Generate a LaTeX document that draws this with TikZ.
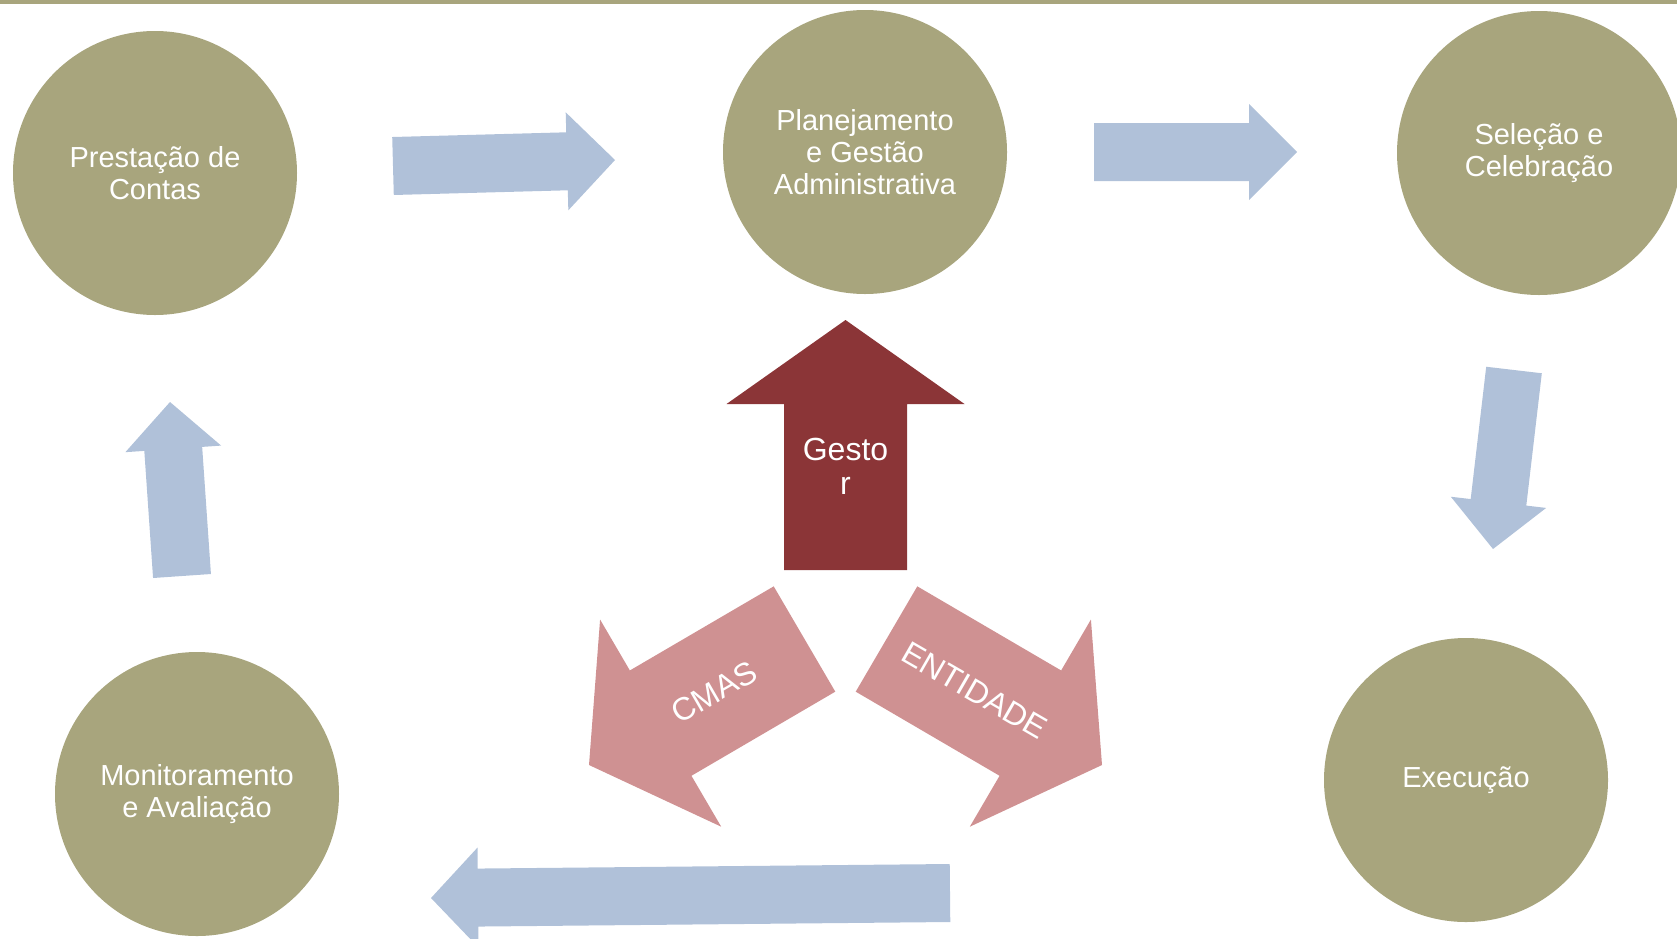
\documentclass[tikz,border=0pt]{standalone}
\usepackage{fontspec}
\setmainfont{Liberation Sans}
\usetikzlibrary{calc}

\definecolor{stagecol}{HTML}{A8A57D}
\definecolor{flowcol}{HTML}{B0C1D9}
\definecolor{gestorcol}{HTML}{8B3537}
\definecolor{partcol}{HTML}{CF9192}

% block arrow: style, tail, tip, half shaft, half head, head length
\newcommand{\blockarrow}[6]{%
  \coordinate (neck) at ($(#3)!#6!(#2)$);
  \fill[#1] ($(#2)!#4!90:(#3)$) -- ($(neck)!#4!90:(#3)$) -- ($(neck)!#5!90:(#3)$)
    -- (#3) -- ($(neck)!#5!-90:(#3)$) -- ($(neck)!#4!-90:(#3)$) -- ($(#2)!#4!-90:(#3)$) -- cycle;
}

\begin{document}
\begin{tikzpicture}[
    x=1pt, y=-1pt,
    stage/.style={circle, fill=stagecol, minimum size=284pt, inner sep=0pt, align=center, text=white, font=\fontsize{29}{32}\selectfont},
    lbl/.style={text=white, align=center, inner sep=0pt, font=\fontsize{32}{34}\selectfont},
    flow/.style={fill=flowcol},
    gestorarrow/.style={fill=gestorcol},
    partarrow/.style={fill=partcol}
]
\useasboundingbox (0,0) rectangle (1677,938);
\fill[stagecol] (0,0) rectangle (1677,4);

\node[stage] (prest) at (155,173) {Prestação de\\Contas};
\node[stage] (plan) at (865,152) {Planejamento\\e Gestão\\Administrativa};
\node[stage] (selec) at (1539,153) {Seleção e\\Celebração};
\node[stage] (exec) at (1466,780) {Execução};
\node[stage] (monit) at (197,794) {Monitoramento\\e Avaliação};

% cycle arrows
\coordinate (f1s) at (393,166);  \coordinate (f1e) at (615,160);
\coordinate (f2s) at (1094,152); \coordinate (f2e) at (1297,152);
\coordinate (f3s) at (1514,370); \coordinate (f3e) at (1493,549);
\coordinate (f4s) at (950,893);  \coordinate (f4e) at (431,898);
\coordinate (f5s) at (182,576);  \coordinate (f5e) at (170,402);
\blockarrow{flow}{f1s}{f1e}{29pt}{49pt}{48pt}
\blockarrow{flow}{f2s}{f2e}{29pt}{48pt}{48pt}
\blockarrow{flow}{f3s}{f3e}{28pt}{48pt}{47pt}
\blockarrow{flow}{f4s}{f4e}{29pt}{50pt}{47pt}
\blockarrow{flow}{f5s}{f5e}{29pt}{48pt}{47pt}

% actors
\coordinate (gs) at (845.5,570); \coordinate (ge) at (845.5,320);
\coordinate (cs) at (804.5,639); \coordinate (ce) at (589,765);
\coordinate (es) at (886.5,639); \coordinate (ee) at (1102,765);
\blockarrow{gestorarrow}{gs}{ge}{61.5pt}{119pt}{84pt}
\blockarrow{partarrow}{cs}{ce}{61pt}{120pt}{83pt}
\blockarrow{partarrow}{es}{ee}{61pt}{120pt}{83pt}

\node[lbl] (gestor) at (845.5,466) {Gesto\\r};
\node[lbl, rotate=30] (cmas) at ($(cs)!0.42!(ce)$) {CMAS};
\node[lbl, rotate=-30] (entidade) at ($(es)!0.41!(ee)$) {ENTIDADE};
\end{tikzpicture}
\end{document}
